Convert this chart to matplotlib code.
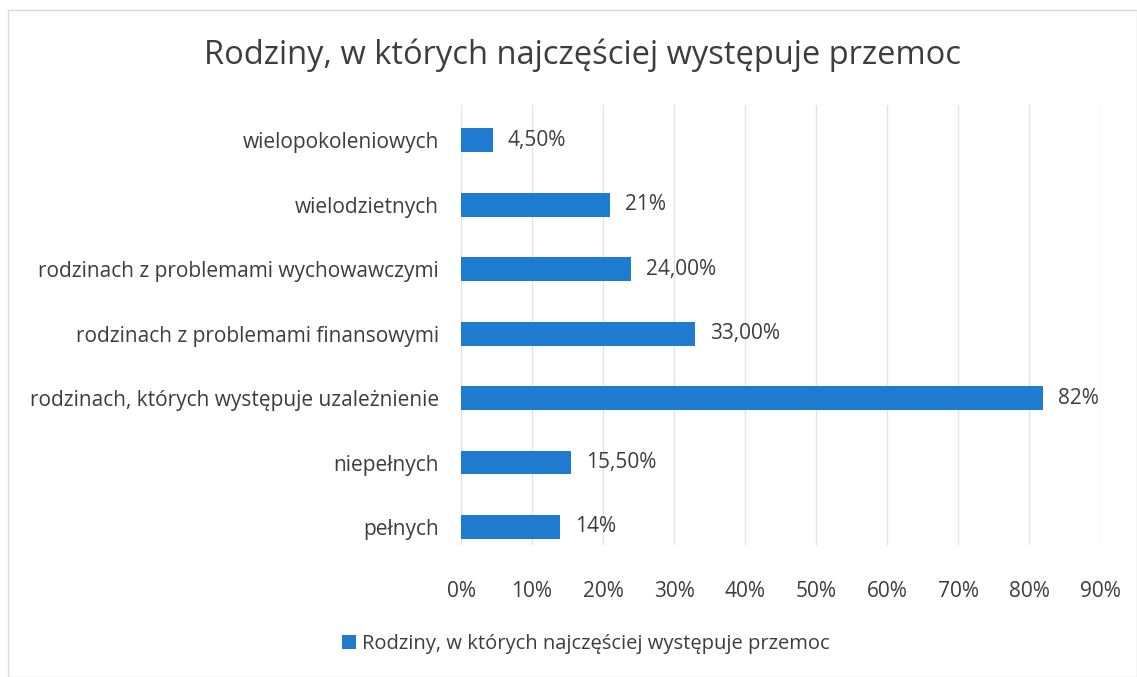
import matplotlib.pyplot as plt
from matplotlib.patches import Rectangle
from matplotlib.ticker import FuncFormatter

plt.rcParams['font.family'] = ['Open Sans', 'DejaVu Sans']

# dane (od góry do dołu)
categories = ['wielopokoleniowych', 'wielodzietnych',
              'rodzinach z problemami wychowawczymi',
              'rodzinach z problemami finansowymi',
              'rodzinach, których występuje uzależnienie',
              'niepełnych', 'pełnych']
values = [4.5, 21, 24, 33, 82, 15.5, 14]
value_labels = ['4,50%', '21%', '24,00%', '33,00%', '82%', '15,50%', '14%']
xticks = [0, 10, 20, 30, 40, 50, 60, 70, 80, 90]

title = 'Rodziny, w których najczęściej występuje przemoc'
bar_color = '#1f7bcf'
text_color = '#3d3d3d'

fig = plt.figure(figsize=(11.37, 6.77), dpi=100)
ax = fig.add_axes([0.4055, 0.195, 0.562, 0.650])

y = list(range(len(categories)))
bars = ax.barh(y, values, height=0.37, color=bar_color, label=title, zorder=3)
ax.set_ylim(len(categories) - 0.72, -0.55)
ax.set_yticks(y)
ax.set_yticklabels(categories, fontsize=15, color=text_color)
ax.set_xlim(0, 90)
ax.set_xticks(xticks)
ax.xaxis.set_major_formatter(FuncFormatter(lambda v, p: f'{v:.0f}%'))
ax.tick_params(axis='x', labelsize=15, labelcolor=text_color, length=0, pad=26)
ax.tick_params(axis='y', length=0, pad=16)
ax.grid(axis='x', color='#e3e3e3', linewidth=1, zorder=0)
for s in ax.spines.values():
    s.set_visible(False)

for b, lab in zip(bars, value_labels):
    ax.text(b.get_width() + 2.1, b.get_y() + b.get_height() / 2, lab,
            va='center', ha='left', fontsize=15, color=text_color)

fig.text(0.512, 0.918, title, ha='center', va='center', fontsize=23.5, color=text_color)

leg = fig.legend(loc='center', bbox_to_anchor=(0.515, 0.049), frameon=False,
                 fontsize=14.5, handlelength=0.7, handleheight=0.7, handletextpad=0.3)
for t in leg.get_texts():
    t.set_color(text_color)

# ramka obszaru wykresu
fig.patches.append(Rectangle((0.007, 0.0), 0.993, 0.985, transform=fig.transFigure,
                             fill=False, edgecolor='#d9d9d9', linewidth=1))

fig.savefig('out.png', dpi=100)
